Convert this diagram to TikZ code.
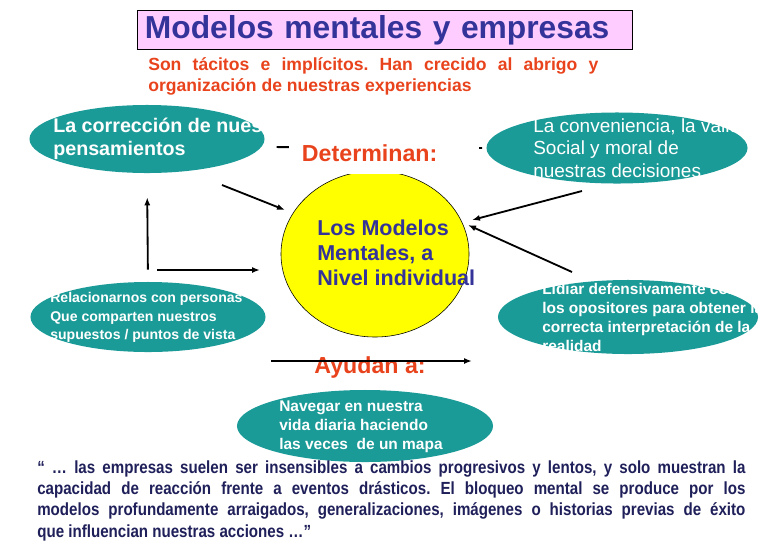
\documentclass[tikz,border=0pt]{standalone}
\usepackage{fontspec}
\setmainfont{Liberation Sans}
\newfontfamily\quotefont[FakeStretch=0.86]{Liberation Sans}
\usepackage{xcolor}
\usepackage{tikz}
\usetikzlibrary{arrows.meta,positioning,shapes.geometric}
\definecolor{ovalteal}{HTML}{1B9B97}
\definecolor{titlepink}{HTML}{FFCCFF}
\definecolor{titleblue}{HTML}{333399}
\definecolor{labelred}{HTML}{E8431C}
\definecolor{circyellow}{HTML}{FFFF00}
\definecolor{quotenavy}{HTML}{1F1F5A}
\frenchspacing

\begin{document}
\begin{tikzpicture}[
  x=0.025cm, y=-0.025cm,
  >=Latex,
  oval/.style={ellipse, fill=ovalteal, draw=none, inner sep=0pt},
  ovaltext/.style={anchor=north west, inner sep=0pt, text=white, align=left},
  titlebox/.style={draw=black, fill=titlepink, minimum width=12.375cm, minimum height=0.9cm, inner xsep=0.2cm, text width=11.975cm, align=left, text=titleblue, font=\fontsize{22.6}{26}\selectfont\bfseries},
  redlab/.style={text=labelred, font=\fontsize{16.5}{19}\selectfont\bfseries},
  arr/.style={-{Latex[length=0.2cm,width=0.15cm]}, line width=1.3pt, draw=black},
  link/.style={line width=1.3pt, draw=black}
]
\useasboundingbox (0,0) rectangle (780,540);

% title and intro
\node[titlebox] (title) at (384.5,30) {Modelos mentales y empresas};
\node[anchor=north west, inner sep=0pt, text width=11.25cm, align=justify, text=labelred,
  font=\fontsize{12.5}{14.9}\selectfont\bfseries] (intro) at (148,57)
  {Son tácitos e implícitos. Han crecido al abrigo y\linebreak organización de nuestras experiencias};

% ovals
\node[oval, minimum width=5.875cm, minimum height=1.7cm] (e1) at (147,139) {};
\node[oval, minimum width=6.525cm, minimum height=1.775cm] (e2) at (617,148) {};
\node[oval, minimum width=5.875cm, minimum height=1.75cm] (e3) at (148,317) {};
\node[oval, minimum width=6.5cm, minimum height=1.85cm] (e4) at (628,317) {};
\node[oval, minimum width=6.4cm, minimum height=1.8cm] (e5) at (365,426) {};
\node[ellipse, draw=black, thin, fill=circyellow, minimum width=4.7cm, minimum height=4.15cm, inner sep=0pt] (circ) at (375,254) {};

\node[ovaltext, font=\fontsize{14}{16.3}\selectfont\bfseries] (t1) at (53,118) {La corrección de nuestros\\pensamientos};
\node[ovaltext, font=\fontsize{13.5}{16}\selectfont] (t2) at (533,118) {La conveniencia, la validez\\Social y moral de\\nuestras decisiones};
\node[ovaltext, font=\fontsize{10}{13.3}\selectfont\bfseries] (t3) at (50,292) {Relacionarnos con personas\\Que comparten nuestros\\supuestos / puntos de vista};
\node[ovaltext, font=\fontsize{11}{13.5}\selectfont\bfseries] (t4) at (542,283) {Lidiar defensivamente con\\los opositores para obtener la\\correcta interpretación de la\\realidad};
\node[ovaltext, font=\fontsize{11}{13.3}\selectfont\bfseries] (t5) at (279,401) {Navegar en nuestra\\vida diaria haciendo\\las veces\ \ de un mapa};
\node[anchor=north west, inner sep=0pt, align=left, text=titleblue,
  font=\fontsize{15.3}{17.8}\selectfont\bfseries] (ctext) at (317,220) {Los Modelos\\Mentales, a\\Nivel individual};

% connectors
\coordinate (a0) at (222,185);
\coordinate (a1) at (285,210);
\coordinate (h0) at (157,270);
\coordinate (h1) at (260,270);
\coordinate (r0) at (582,191);
\coordinate (r1) at (472,220);
\coordinate (s0) at (572,272);
\coordinate (s1) at (468,225);
\coordinate (ay0) at (271,361);
\coordinate (ay1) at (472,361);

\draw[link, shorten <=0.375cm, shorten >=0.1cm] (e1.-4) -- (e2.west);
\node[fill=white, inner xsep=0.325cm, inner ysep=9pt, text width=4.1cm, align=left, redlab] (det) at (384,153) {Determinan:};

\draw[arr] (a0) -- (a1);
\draw[arr, shorten <=0.3cm, shorten >=0.6cm] (e3.north) -- (e1.south);
\draw[arr] (h0) -- (h1);
\draw[arr] (r0) -- (r1);
\draw[arr] (s0) -- (s1);

\node[redlab] (ayu) at (370,367) {Ayudan a:};
\draw[arr] (ay0) -- (ay1);

% quote
\node[anchor=north west, inner sep=0pt, text width=17.7cm, align=justify, text=quotenavy,
  font=\quotefont\bfseries\fontsize{12.5}{15.2}\selectfont] (quote) at (37,460)
  {“ … las empresas suelen ser insensibles a cambios progresivos y lentos, y solo muestran la\linebreak
  capacidad de reacción frente a eventos drásticos. El bloqueo mental se produce por los\linebreak
  modelos profundamente arraigados, generalizaciones, imágenes o historias previas de éxito\linebreak
  que influencian nuestras acciones …”};
\end{tikzpicture}
\end{document}
